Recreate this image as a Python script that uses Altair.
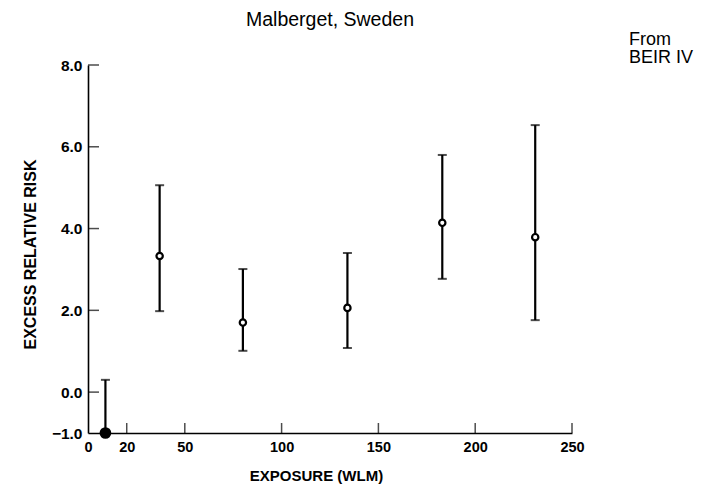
import altair as alt
import pandas as pd

# Data
exposure = [9, 37, 80, 134, 183, 231]
err = [-1.0, 3.33, 1.70, 2.06, 4.14, 3.79]
err_lo = [-1.0, 1.98, 1.01, 1.08, 2.77, 1.76]
err_hi = [0.30, 5.06, 3.01, 3.40, 5.80, 6.53]

x_ticks = [0, 20, 50, 100, 150, 200, 250]
y_ticks = [-1.0, 0.0, 2.0, 4.0, 6.0, 8.0]

title_text = "Malberget, Sweden"
source_text = "From\nBEIR IV"

W, H = 484, 368
FONT = "Liberation Sans"

df = pd.DataFrame({"x": exposure, "y": err, "lo": err_lo, "hi": err_hi})
xt = pd.DataFrame({"v": x_ticks})
yt = pd.DataFrame({"v": y_ticks})

xscale = alt.Scale(domain=[0, 250], nice=False, zero=False)
yscale = alt.Scale(domain=[-1, 8], nice=False, zero=False)

xaxis = alt.Axis(
    values=x_ticks, format="d", ticks=False, grid=False,
    domainColor="black", domainWidth=1.6,
    labelFont=FONT, labelFontSize=14.5, labelFontWeight="bold", labelColor="black",
    labelPadding=7, labelFlush=False,
    title="EXPOSURE (WLM)", titleFont=FONT, titleFontSize=15, titleFontWeight="bold",
    titleColor="black", titleX=228, titleY=42, titleBaseline="middle",
)
yaxis = alt.Axis(
    values=y_ticks, format=".1f", ticks=False, grid=False,
    domainColor="black", domainWidth=1.6,
    labelFont=FONT, labelFontSize=15.5, labelFontWeight="bold", labelColor="black",
    labelPadding=6, labelFlush=False,
    title="EXCESS RELATIVE RISK", titleFont=FONT, titleFontSize=16, titleFontWeight="bold",
    titleColor="black", titleX=-58, titleY=189, titleAngle=270, titleAlign="center",
    titleBaseline="middle",
)

base = alt.Chart(df)

bars = base.mark_rule(color="black", strokeWidth=2.2).encode(
    x=alt.X("x:Q", scale=xscale, axis=xaxis),
    y=alt.Y("lo:Q", scale=yscale, axis=yaxis),
    y2="hi:Q",
)
cap_hi = base.mark_tick(color="black", thickness=2, size=9, orient="horizontal").encode(
    x=alt.X("x:Q", scale=xscale), y=alt.Y("hi:Q", scale=yscale)
)
cap_lo = base.transform_filter("datum.lo > -1").mark_tick(
    color="black", thickness=2, size=9, orient="horizontal"
).encode(x=alt.X("x:Q", scale=xscale), y=alt.Y("lo:Q", scale=yscale))

points = base.mark_point(shape="circle", strokeWidth=2.2, opacity=1).encode(
    x=alt.X("x:Q", scale=xscale),
    y=alt.Y("y:Q", scale=yscale),
    fill=alt.condition("datum.y <= -1", alt.value("black"), alt.value("white")),
    stroke=alt.value("black"),
    size=alt.condition("datum.y <= -1", alt.value(90), alt.value(40)),
)

ytick_marks = alt.Chart(yt).transform_filter("datum.v > -1").mark_tick(
    color="black", thickness=1.5, size=11, orient="horizontal"
).encode(y=alt.Y("v:Q", scale=yscale), x=alt.value(5.5))

xtick_marks = alt.Chart(xt).transform_filter("datum.v > 0").mark_tick(
    color="black", thickness=1.5, size=10, orient="vertical"
).encode(x=alt.X("v:Q", scale=xscale), y=alt.value(H - 5))

title_mark = alt.Chart(pd.DataFrame({"t": [title_text]})).mark_text(
    font=FONT, fontSize=19.5, align="center", baseline="alphabetic", color="black",
).encode(text="t:N", x=alt.value(W / 2), y=alt.value(-39))

source = alt.Chart(pd.DataFrame({"t": [source_text]})).mark_text(
    font=FONT, fontSize=18, align="left", baseline="alphabetic",
    lineBreak="\n", lineHeight=18, color="black",
).encode(text="t:N", x=alt.value(541), y=alt.value(-20))

chart = alt.layer(
    bars, cap_hi, cap_lo, ytick_marks, xtick_marks, points, title_mark, source
).properties(
    width=W, height=H,
    autosize=alt.AutoSizeParams(type="none"),
    padding={"left": 88, "top": 65, "right": 139, "bottom": 66},
    background="white",
).configure_view(stroke=None)

chart.save("out.html", embed_options={"renderer": "svg", "actions": False})
